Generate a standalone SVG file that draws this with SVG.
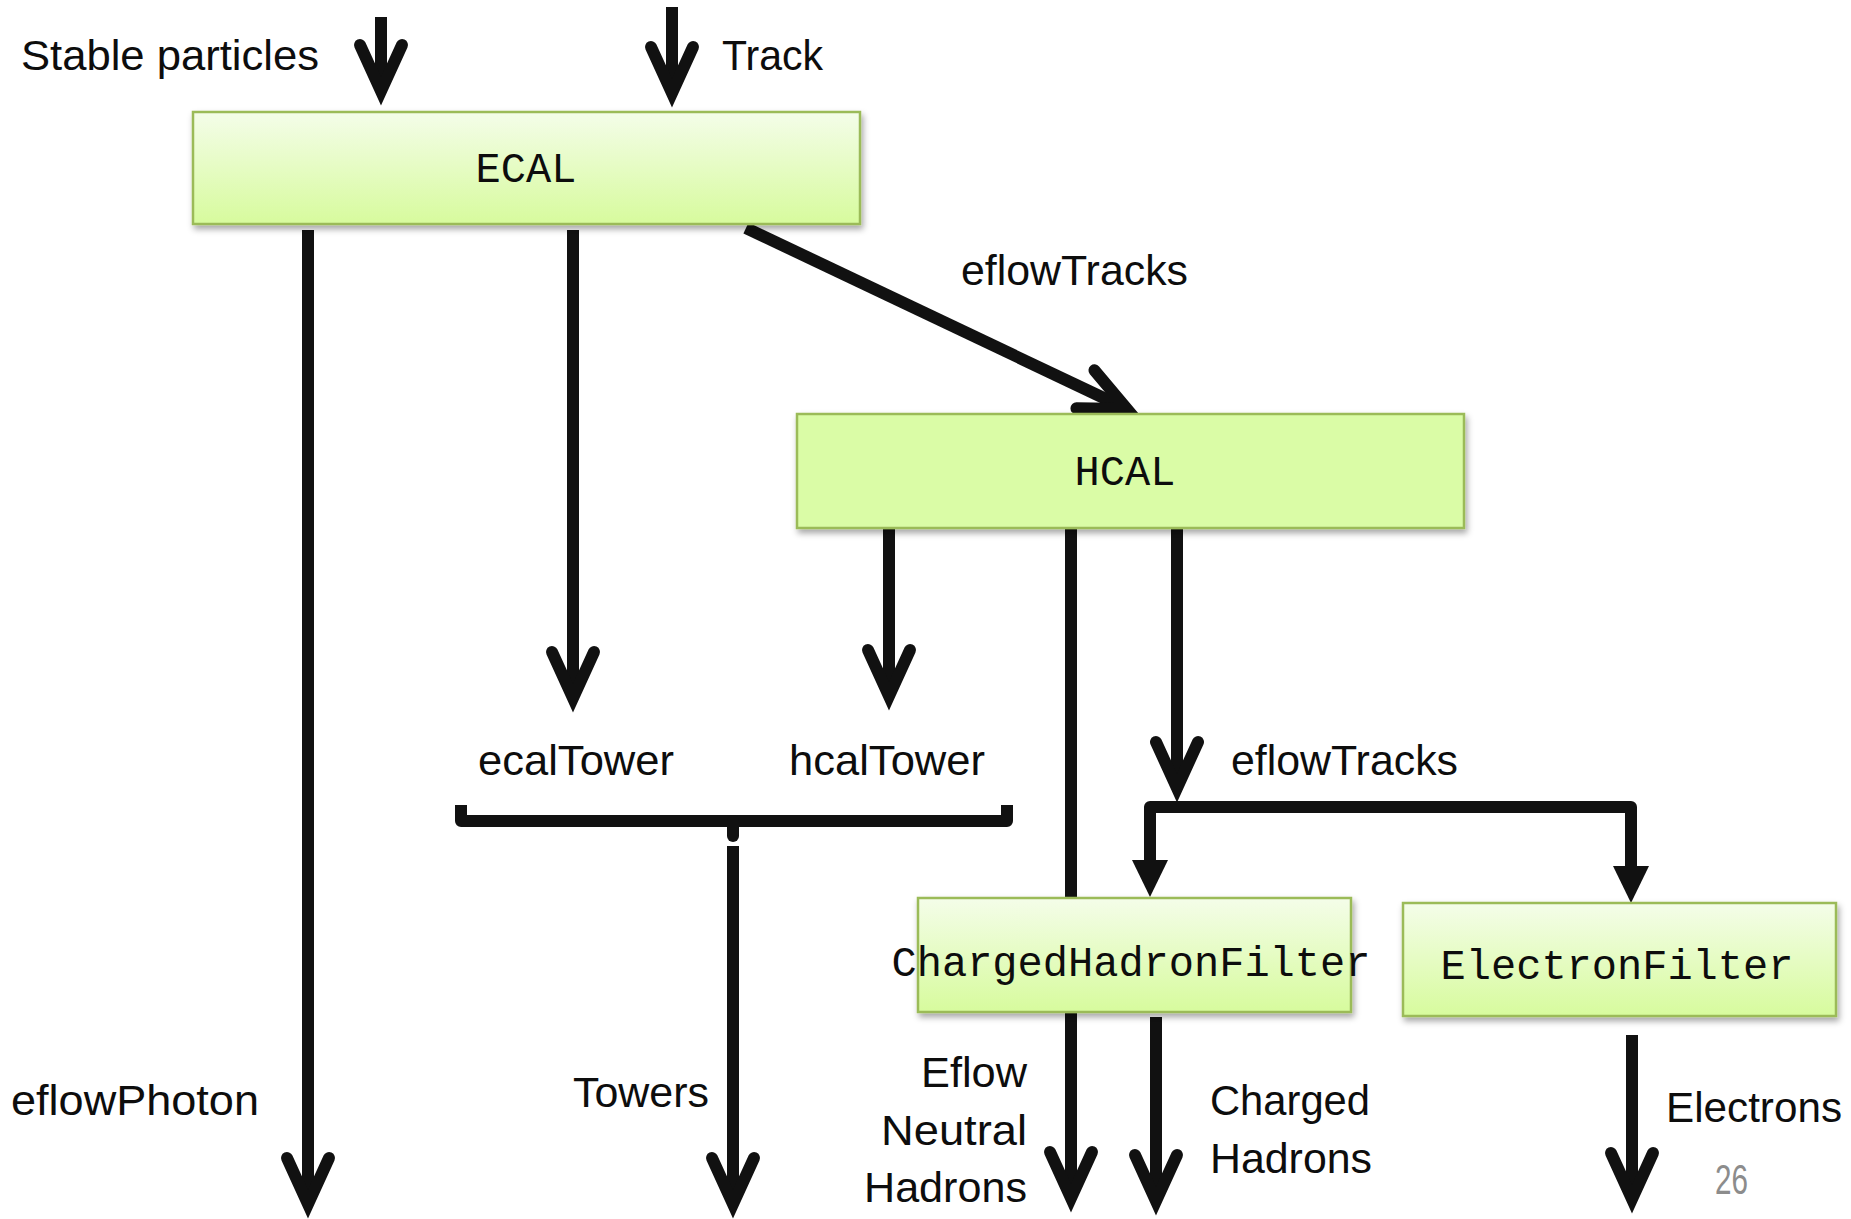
<svg xmlns="http://www.w3.org/2000/svg" width="1851" height="1219" viewBox="0 0 1851 1219">
  <style>
    .lbl { font-family: "Liberation Sans", Arial, sans-serif; font-size: 42px; fill: #0d0d0d; }
    .mono { font-family: "Liberation Mono", "Courier New", monospace; font-size: 42px; fill: #0d0d0d; text-anchor: middle; }
    .box { stroke: #9bbb59; stroke-width: 2.5; filter: url(#shadow); }
    .ln { fill: none; stroke: #111111; stroke-width: 12; }
    .v { marker-end: url(#vhead); }
    .t { marker-end: url(#thead); }
  </style>
  <defs>
    <linearGradient id="grad" x1="0" y1="0" x2="0" y2="1">
      <stop offset="0" stop-color="#f4fde9"/>
      <stop offset="1" stop-color="#d7fb9d"/>
    </linearGradient>
    <filter id="shadow" x="-5%" y="-10%" width="115%" height="130%">
      <feDropShadow dx="2" dy="4" stdDeviation="3" flood-color="#000000" flood-opacity="0.35"/>
    </filter>
    <marker id="vhead" markerUnits="userSpaceOnUse" orient="auto" refX="0" refY="0" markerWidth="10" markerHeight="10" overflow="visible">
      <path d="M-46,-21 L0,0 L-46,21" fill="none" stroke="#111111" stroke-width="12" stroke-linecap="round" stroke-linejoin="miter" stroke-miterlimit="6"/>
    </marker>
    <marker id="thead" markerUnits="userSpaceOnUse" orient="auto" refX="0" refY="0" markerWidth="10" markerHeight="10" overflow="visible">
      <path d="M-7,-18 L30,0 L-7,18 Z" fill="#111111"/>
    </marker>
  </defs>
  <rect x="0" y="0" width="1851" height="1219" fill="#ffffff"/>

  <g id="connectors">
    <line class="ln v" x1="381" y1="17" x2="381" y2="91"/>
    <line class="ln v" x1="672" y1="7" x2="672" y2="93"/>
    <line class="ln v" x1="308" y1="230" x2="308" y2="1204"/>
    <line class="ln v" x1="573" y1="230" x2="573" y2="698"/>
    <line class="ln v" x1="746" y1="228" x2="1127" y2="409"/>
    <line class="ln v" x1="889" y1="529" x2="889" y2="696"/>
    <line class="ln" x1="1071" y1="529" x2="1071" y2="898"/>
    <line class="ln v" x1="1177" y1="529" x2="1177" y2="788"/>
    <path class="ln" d="M1150,870 L1150,807 L1631,807 L1631,873" stroke-width="10" stroke-linejoin="round"/>
    <path class="ln t" d="M1150,807 L1150,867" stroke-width="10"/>
    <path class="ln t" d="M1631,807 L1631,873" stroke-width="10"/>
    <path class="ln" d="M461,805 L461,821 L1007,821 L1007,805" stroke-linejoin="round"/>
    <line class="ln" x1="733" y1="821" x2="733" y2="836" stroke-linecap="round"/>
    <line class="ln v" x1="733" y1="846" x2="733" y2="1204"/>
    <line class="ln v" x1="1071" y1="1012" x2="1071" y2="1198"/>
    <line class="ln v" x1="1156" y1="1017" x2="1156" y2="1201"/>
    <line class="ln v" x1="1632" y1="1035" x2="1632" y2="1199"/>
  </g>

  <g id="ecal">
    <rect class="box" x="193" y="112" width="667" height="112" fill="url(#grad)"/>
    <text class="mono" x="526" y="182">ECAL</text>
  </g>
  <g id="hcal">
    <rect class="box" x="797" y="414" width="667" height="114" fill="#dafca6"/>
    <text class="mono" x="1125" y="485">HCAL</text>
  </g>
  <g id="chargedhadronfilter">
    <rect class="box" x="918" y="898" width="433" height="114" fill="url(#grad)"/>
    <text class="mono" x="1131" y="976">ChargedHadronFilter</text>
  </g>
  <g id="electronfilter">
    <rect class="box" x="1403" y="903" width="433" height="113" fill="url(#grad)"/>
    <text class="mono" x="1617" y="979" font-size="43">ElectronFilter</text>
  </g>

  <g id="labels">
    <text class="lbl" x="21" y="70" textLength="298" lengthAdjust="spacingAndGlyphs">Stable particles</text>
    <text class="lbl" x="722" y="70" textLength="101" lengthAdjust="spacingAndGlyphs">Track</text>
    <text class="lbl" x="961" y="285" textLength="227" lengthAdjust="spacingAndGlyphs">eflowTracks</text>
    <text class="lbl" x="478" y="775" textLength="196" lengthAdjust="spacingAndGlyphs">ecalTower</text>
    <text class="lbl" x="789" y="775" textLength="196" lengthAdjust="spacingAndGlyphs">hcalTower</text>
    <text class="lbl" x="1231" y="775" textLength="227" lengthAdjust="spacingAndGlyphs">eflowTracks</text>
    <text class="lbl" x="11" y="1115" textLength="248" lengthAdjust="spacingAndGlyphs">eflowPhoton</text>
    <text class="lbl" x="573" y="1107" textLength="136" lengthAdjust="spacingAndGlyphs">Towers</text>
    <text class="lbl" x="921" y="1087" textLength="106" lengthAdjust="spacingAndGlyphs">Eflow</text>
    <text class="lbl" x="881" y="1145" textLength="146" lengthAdjust="spacingAndGlyphs">Neutral</text>
    <text class="lbl" x="864" y="1202" textLength="163" lengthAdjust="spacingAndGlyphs">Hadrons</text>
    <text class="lbl" x="1210" y="1115" textLength="160" lengthAdjust="spacingAndGlyphs">Charged</text>
    <text class="lbl" x="1210" y="1173" textLength="162" lengthAdjust="spacingAndGlyphs">Hadrons</text>
    <text class="lbl" x="1666" y="1122" textLength="176" lengthAdjust="spacingAndGlyphs">Electrons</text>
    <text class="lbl" x="1715" y="1194" font-size="28" style="fill:#8c8c8c" textLength="33" lengthAdjust="spacingAndGlyphs">26</text>
  </g>
</svg>
